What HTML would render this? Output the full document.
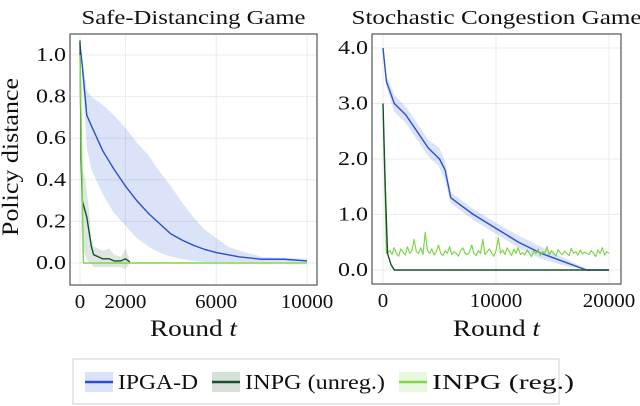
<!DOCTYPE html>
<html><head><meta charset="utf-8"><style>
body{margin:0;background:#fff;}
svg{display:block;font-family:"Liberation Serif",serif;}
</style></head><body>
<svg id="c" width="640" height="406" viewBox="0 0 640 406"></svg>
<script>
// Left panel data (Safe-Distancing Game)
const L_ipga_t=[0,100,300,500,1000,1500,2000,2500,3000,3500,4000,4500,5000,5500,6000,6500,7000,8000,9000,10000];
const L_ipga_m=[1.05,0.95,0.71,0.66,0.54,0.45,0.37,0.30,0.24,0.19,0.14,0.11,0.085,0.065,0.05,0.04,0.03,0.018,0.018,0.01];
const L_ipga_hi=[1.05,0.98,0.83,0.8,0.76,0.71,0.65,0.58,0.52,0.44,0.37,0.29,0.22,0.16,0.12,0.08,0.06,0.03,0.025,0.02];
const L_ipga_lo=[1.05,0.9,0.55,0.45,0.33,0.24,0.18,0.12,0.08,0.05,0.03,0.02,0.01,0.005,0.005,0.005,0.005,0.005,0.005,0.005];
const L_un_t=[0,50,100,200,300,400,500,600,800,1000,1300,1500,1800,2000,2200];
const L_un_m=[1.07,0.5,0.3,0.26,0.22,0.15,0.08,0.04,0.03,0.02,0.02,0.01,0.01,0.02,0.005];
const L_un_hi=[1.07,0.5,0.45,0.42,0.35,0.25,0.12,0.08,0.07,0.06,0.07,0.04,0.03,0.07,0.01];
const L_un_lo=[1.07,0.2,0.05,0.05,0.02,0,0,-0.02,-0.02,-0.02,-0.02,-0.02,-0.02,-0.03,0];
const L_reg_t=[0,150,10000];
const L_reg_m=[1.0,0.0,0.0];
// Right panel data (Stochastic Congestion Game)
const R_ipga_t=[0,300,1000,2000,3000,4000,5000,5500,6000,7000,8000,10000,12000,14000,16000,18000,20000];
const R_ipga_m=[4.0,3.4,3.0,2.8,2.5,2.2,2.0,1.8,1.3,1.15,1.0,0.75,0.5,0.3,0.15,0.0,0.0];
const R_ipga_hi=[4.0,3.5,3.15,2.95,2.65,2.35,2.2,1.95,1.4,1.25,1.1,0.85,0.62,0.42,0.22,0.02,0.0];
const R_ipga_lo=[4.0,3.3,2.85,2.65,2.35,2.05,1.85,1.6,1.2,1.05,0.9,0.65,0.4,0.2,0.08,0.0,0.0];
const R_un_t=[0,200,400,700,1000,20000];
const R_un_m=[3.0,1.5,0.3,0.1,0.0,0.0];
const R_reg_noise=[0.35,0.28,0.4,0.3,0.25,0.38,0.32,0.27,0.42,0.3,0.35,0.55,0.33,0.3,0.4,0.28,0.68,0.35,0.3,0.38,0.27,0.33,0.45,0.3,0.26,0.35,0.3,0.42,0.28,0.33,0.3,0.25,0.35,0.4,0.3,0.28,0.32,0.45,0.3,0.26,0.35,0.3,0.55,0.28,0.33,0.38,0.3,0.25,0.35,0.58,0.3,0.36,0.28,0.4,0.33,0.26,0.37,0.3,0.4,0.28,
0.31,0.27,0.36,0.3,0.24,0.34,0.29,0.38,0.26,0.33,0.3,0.42,0.27,0.35,0.3,0.25,0.37,0.31,0.28,0.34,0.3,0.26,0.39,0.3,0.33,0.27,0.36,0.29,0.32,0.3,0.28,0.35,0.3,0.24,0.36,0.3,0.4,0.27,0.33,0.3];

const svg=document.getElementById('c');
const NS='http://www.w3.org/2000/svg';
function mk(tag,attrs,parent){const e=document.createElementNS(NS,tag);for(const k in attrs)e.setAttribute(k,attrs[k]);(parent||svg).appendChild(e);return e;}
function txt(x,y,s,size,anchor,name,parent,len){const t=mk('text',{x:x,y:y,'font-size':size,'text-anchor':anchor,fill:'#111'},parent);t.textContent=s;if(len){t.setAttribute('textLength',len);t.setAttribute('lengthAdjust','spacingAndGlyphs');}return t;}

function panel(opt){
  const g=mk('g',{});
  
  
  const X=v=>opt.x0+(v-opt.xmin)/(opt.xmax-opt.xmin)*(opt.x1-opt.x0);
  const Y=v=>opt.y0+(v-opt.ymin)/(opt.ymax-opt.ymin)*(opt.y1-opt.y0);
  opt.xticks.forEach(v=>{const l=mk('line',{x1:X(v),x2:X(v),y1:opt.bt,y2:opt.bb,stroke:'#ebebeb','stroke-width':1},g);});
  opt.yticks.forEach(v=>{const l=mk('line',{x1:opt.bl,x2:opt.br,y1:Y(v),y2:Y(v),stroke:'#ebebeb','stroke-width':1},g);});
  const clipId='clip'+opt.name;
  const cp=mk('clipPath',{id:clipId},g);mk('rect',{x:opt.bl,y:opt.bt,width:opt.br-opt.bl,height:opt.bb-opt.bt},cp);
  const pg=mk('g',{'clip-path':'url(#'+clipId+')'},g);
  function band(ts,hi,lo,fill,op,name){
    let d='M'+ts.map((t,i)=>X(t)+','+Y(hi[i])).join('L');
    d+='L'+ts.map((t,i)=>X(t)+','+Y(lo[i])).reverse().join('L')+'Z';
    const p=mk('path',{d:d,fill:fill,'fill-opacity':op,stroke:'none'},pg);
  }
  function line(ts,vs,col,w,name){
    const p=mk('path',{d:'M'+ts.map((t,i)=>X(t)+','+Y(vs[i])).join('L'),fill:'none',stroke:col,'stroke-width':w,'stroke-linejoin':'round'},pg);
    
  }
  opt.draw(band,line);
  const fr=mk('rect',{x:opt.bl,y:opt.bt,width:opt.br-opt.bl,height:opt.bb-opt.bt,fill:'none',stroke:'#555','stroke-width':1.2},g);
  
  opt.xticks.forEach((v,i)=>{txt(X(v),opt.bb+23,opt.xlabels[i],20,'middle','x-tick-label',g,opt.xlabels[i].length*10.5);});
  opt.yticks.forEach((v,i)=>{txt(opt.bl-4,Y(v)+6,opt.ylabels[i],20,'end','y-tick-label',g,30);});
  txt((opt.bl+opt.br)/2,24,opt.title,20,'middle','panel-title',g,opt.titleLen);
  const xl=txt((opt.bl+opt.br)/2,336,'Round ',23,'middle','x-axis-title',g,87);
  const ts=mk('tspan',{'font-style':'italic'},xl);ts.textContent='t';
}

panel({name:'safe-distancing-panel',title:'Safe-Distancing Game',titleLen:224,bl:70,br:317,bt:34,bb:285,
  x0:80,x1:307,xmin:0,xmax:10000,y0:263,y1:55,ymin:0,ymax:1.0,
  xticks:[0,2000,6000,10000],xlabels:['0','2000','6000','10000'],
  yticks:[0,0.2,0.4,0.6,0.8,1.0],ylabels:['0.0','0.2','0.4','0.6','0.8','1.0'],
  draw:(band,line)=>{
    band(L_ipga_t,L_ipga_hi,L_ipga_lo,'#3a64d6',0.18,'ipga-band');
    band(L_un_t,L_un_hi,L_un_lo,'#1f5a33',0.15,'inpg-unreg-band');
    line(L_ipga_t,L_ipga_m,'#2a4fd0',1.4,'ipga-line');
    line(L_un_t,L_un_m,'#16502c',1.4,'inpg-unreg-line');
    line(L_reg_t,L_reg_m,'#7ed64a',1.4,'inpg-reg-line');
  }});

panel({name:'congestion-panel',title:'Stochastic Congestion Game',titleLen:290,bl:372,br:621,bt:34,bb:284,
  x0:383,x1:609,xmin:0,xmax:20000,y0:270,y1:48,ymin:0,ymax:4.0,
  xticks:[0,10000,20000],xlabels:['0','10000','20000'],
  yticks:[0,1,2,3,4],ylabels:['0.0','1.0','2.0','3.0','4.0'],
  draw:(band,line)=>{
    band(R_ipga_t,R_ipga_hi,R_ipga_lo,'#3a64d6',0.18,'ipga-band');
    line(R_ipga_t,R_ipga_m,'#2a4fd0',1.4,'ipga-line');
    const rt=[0,300].concat(R_reg_noise.map((v,i)=>600+i*(19400/(R_reg_noise.length-1))));
    const rv=[3.0,0.3].concat(R_reg_noise);
    line(rt,rv,'#7ed64a',1.2,'inpg-reg-line');
    line(R_un_t,R_un_m,'#16502c',1.4,'inpg-unreg-line');
  }});
txt(18,157,'Policy distance',23,'middle','y-axis-title',null,158).setAttribute('transform','rotate(-90 18 157)');

const lg=mk('g',{});


mk('rect',{x:73,y:359,width:486,height:45,fill:'#fff',stroke:'#d8d8d8','stroke-width':1.2},lg);
const entries=[['IPGA-D','#3a64d6','#2a4fd0',85,80],['INPG (unreg.)','#1f5a33','#16502c',212,140],['INPG (reg.)','#7ed64a','#7ed64a',399,142]];
entries.forEach(e=>{
  const eg=mk('g',{},lg);
  
  
  mk('rect',{x:e[3],y:372,width:28,height:20,fill:e[1],'fill-opacity':0.18},eg);
  mk('line',{x1:e[3],x2:e[3]+28,y1:382,y2:382,stroke:e[2],'stroke-width':2.5},eg);
  txt(e[3]+33,389,e[0],21,'start','legend-label',eg,e[4]);
});
</script>
</body></html>
